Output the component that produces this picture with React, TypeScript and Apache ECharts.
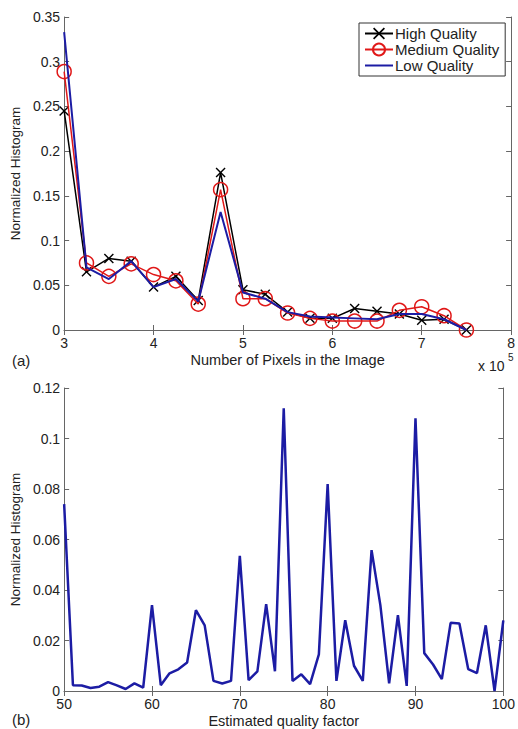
import React, { useEffect, useRef } from "react";
import * as echarts from "echarts";

// Top chart (a): number of pixels (x 10^5)
const pixelX = [3, 3.25, 3.5, 3.75, 4, 4.25, 4.5, 4.75, 5, 5.25, 5.5, 5.75, 6, 6.25, 6.5, 6.75, 7, 7.25, 7.5];
const highQuality = [0.245, 0.065, 0.080, 0.077, 0.048, 0.060, 0.033, 0.176, 0.045, 0.040, 0.020, 0.013, 0.013, 0.024, 0.021, 0.018, 0.011, 0.012, 0.0];
const mediumQuality = [0.289, 0.075, 0.060, 0.074, 0.062, 0.055, 0.029, 0.157, 0.035, 0.035, 0.019, 0.013, 0.010, 0.010, 0.010, 0.022, 0.026, 0.016, 0.0];
const lowQuality = [0.333, 0.070, 0.057, 0.077, 0.048, 0.057, 0.032, 0.132, 0.042, 0.035, 0.020, 0.015, 0.014, 0.013, 0.012, 0.018, 0.018, 0.012, 0.0];

// Bottom chart (b): estimated quality factor 50..100
const qualityFactor = [
  50, 51, 52, 53, 54, 55, 56, 57, 58, 59, 60, 61, 62, 63, 64, 65, 66, 67, 68, 69, 70,
  71, 72, 73, 74, 75, 76, 77, 78, 79, 80, 81, 82, 83, 84, 85, 86, 87, 88, 89, 90,
  91, 92, 93, 94, 95, 96, 97, 98, 99, 100,
];
const qualityHist = [
  0.074, 0.0023, 0.0022, 0.0012, 0.0017, 0.0035, 0.0022, 0.0008, 0.003, 0.0013, 0.034,
  0.0023, 0.007, 0.0086, 0.0113, 0.032, 0.026, 0.004, 0.003, 0.004, 0.0535,
  0.0043, 0.0078, 0.0344, 0.0078, 0.112, 0.004, 0.0066, 0.0027, 0.0145, 0.082,
  0.004, 0.028, 0.010, 0.004, 0.0558, 0.034, 0.003, 0.030, 0.002, 0.108,
  0.015, 0.0105, 0.0047, 0.027, 0.0267, 0.0087, 0.0071, 0.026, 0.0, 0.028,
];

const topXTicks = { min: 3, max: 8, interval: 1 };
const topYTicks = { min: 0, max: 0.35, interval: 0.05 };
const botXTicks = { min: 50, max: 100, interval: 10 };
const botYTicks = { min: 0, max: 0.12, interval: 0.02 };

const FONT = "Liberation Sans, Arial, Helvetica, sans-serif";
const AXIS_COLOR = "#666";
const TEXT_COLOR = "#222";
const X_SYMBOL = "path://M0,1 L1,0 L5,4 L9,0 L10,1 L6,5 L10,9 L9,10 L5,6 L1,10 L0,9 L4,5 Z";

export default function App() {
  const ref = useRef<HTMLDivElement>(null);

  useEffect(() => {
    if (!ref.current) return;
    const chart = echarts.init(ref.current, undefined, { renderer: "svg" });

    const axisBase = (extra: any) => ({
      type: "value",
      axisLine: { show: true, lineStyle: { color: AXIS_COLOR, width: 1 } },
      axisTick: { show: true, inside: true, length: 5, lineStyle: { color: AXIS_COLOR } },
      splitLine: { show: false },
      axisLabel: { color: TEXT_COLOR, fontFamily: FONT, fontSize: 14 },
      ...extra,
    });
    const noLabel = { axisLabel: { show: false } };

    const zip = (xs: number[], ys: number[]) => xs.map((x, i) => [x, ys[i]]);

    const option: any = {
      animation: false,
      backgroundColor: "#fff",
      grid: [
        { left: 64, top: 17, right: 1, height: 313 },
        { left: 64, top: 388, right: 10, height: 305 },
      ],
      xAxis: [
        axisBase({
          gridIndex: 0, position: "bottom", ...topXTicks,
          axisLabel: { color: TEXT_COLOR, fontFamily: FONT, fontSize: 14, margin: 6 },
          name: "Number of Pixels in the Image", nameLocation: "middle", nameGap: 22,
          nameTextStyle: { color: TEXT_COLOR, fontFamily: FONT, fontSize: 14.5 },
        }),
        axisBase({ gridIndex: 0, position: "top", ...topXTicks, ...noLabel }),
        axisBase({
          gridIndex: 1, position: "bottom", ...botXTicks,
          axisLabel: { color: TEXT_COLOR, fontFamily: FONT, fontSize: 14, margin: 6 },
          name: "Estimated quality factor", nameLocation: "middle", nameGap: 22,
          nameTextStyle: { color: TEXT_COLOR, fontFamily: FONT, fontSize: 14.5 },
        }),
        axisBase({ gridIndex: 1, position: "top", ...botXTicks, ...noLabel }),
      ],
      yAxis: [
        axisBase({
          gridIndex: 0, position: "left", ...topYTicks,
          axisLabel: { color: TEXT_COLOR, fontFamily: FONT, fontSize: 14, margin: 4 },
          name: "Normalized Histogram", nameLocation: "middle", nameGap: 39,
          nameTextStyle: { color: TEXT_COLOR, fontFamily: FONT, fontSize: 13.5 },
        }),
        axisBase({ gridIndex: 0, position: "right", ...topYTicks, ...noLabel }),
        axisBase({
          gridIndex: 1, position: "left", ...botYTicks,
          axisLabel: { color: TEXT_COLOR, fontFamily: FONT, fontSize: 14, margin: 4 },
          name: "Normalized Histogram", nameLocation: "middle", nameGap: 39,
          nameTextStyle: { color: TEXT_COLOR, fontFamily: FONT, fontSize: 13.5 },
        }),
        axisBase({ gridIndex: 1, position: "right", ...botYTicks, ...noLabel }),
      ],
      legend: {
        orient: "vertical",
        left: 359,
        top: 23,
        backgroundColor: "#fff",
        borderColor: "#333",
        borderWidth: 1,
        borderRadius: 0,
        padding: [3, 6, 3, 5],
        itemGap: 1,
        itemWidth: 28,
        itemHeight: 15,
        textStyle: { color: TEXT_COLOR, fontFamily: FONT, fontSize: 15, padding: [0, 0, 0, -3] },
        data: [
          { name: "High Quality" },
          { name: "Medium Quality" },
          { name: "Low Quality", itemStyle: { color: "rgba(0,0,0,0)", borderWidth: 0, opacity: 0 } },
        ],
      },
      series: [
        {
          name: "High Quality",
          type: "line",
          xAxisIndex: 0,
          yAxisIndex: 0,
          data: zip(pixelX, highQuality),
          symbol: X_SYMBOL,
          symbolSize: 10,
          lineStyle: { color: "#000", width: 1.5 },
          itemStyle: { color: "#000" },
          z: 3,
        },
        {
          name: "Medium Quality",
          type: "line",
          xAxisIndex: 0,
          yAxisIndex: 0,
          data: zip(pixelX, mediumQuality),
          symbol: "circle",
          symbolSize: 14,
          lineStyle: { color: "#e01818", width: 1.5 },
          itemStyle: { color: "rgba(0,0,0,0)", borderColor: "#e01818", borderWidth: 1.5 },
          z: 4,
        },
        {
          name: "Low Quality",
          type: "line",
          xAxisIndex: 0,
          yAxisIndex: 0,
          data: zip(pixelX, lowQuality),
          symbol: "none",
          lineStyle: { color: "#1c1ca4", width: 2 },
          itemStyle: { color: "#1c1ca4" },
          z: 5,
        },
        {
          name: "Quality Factor",
          type: "line",
          xAxisIndex: 2,
          yAxisIndex: 2,
          data: zip(qualityFactor, qualityHist),
          symbol: "none",
          lineStyle: { color: "#1c1ca4", width: 2.5 },
          itemStyle: { color: "#1c1ca4" },
        },
      ],
      graphic: [
        { type: "text", left: 12, top: 353, style: { text: "(a)", fill: TEXT_COLOR, font: `15px ${FONT}` } },
        { type: "text", left: 12, top: 712, style: { text: "(b)", fill: TEXT_COLOR, font: `15px ${FONT}` } },
        { type: "text", left: 478, top: 359, style: { text: "x 10", fill: TEXT_COLOR, font: `14px ${FONT}` } },
        { type: "text", left: 508, top: 352, style: { text: "5", fill: TEXT_COLOR, font: `10px ${FONT}` } },
      ],
    };

    chart.setOption(option);
    return () => chart.dispose();
  }, []);

  return (
    <div
      ref={ref}
      style={{ position: "fixed", left: 0, top: 0, width: 518, height: 729, background: "#fff" }}
    />
  );
}
